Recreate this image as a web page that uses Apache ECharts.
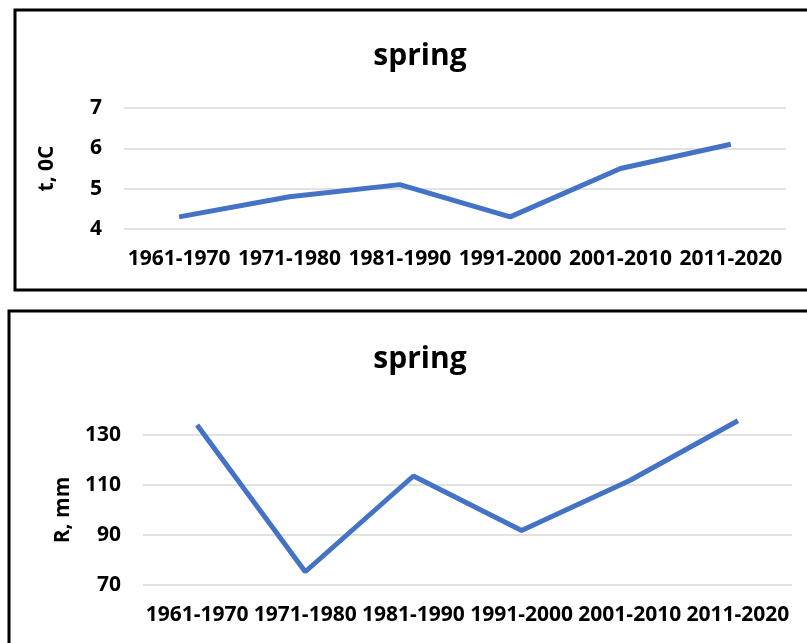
<!DOCTYPE html>
<html>
<head>
<meta charset="utf-8">
<script src="https://cdn.jsdelivr.net/npm/echarts@6/dist/echarts.min.js"></script>
<style>
  html, body { margin: 0; padding: 0; background: #fff; }
  #main { width: 807px; height: 643px; }
</style>
</head>
<body>
<div id="main"></div>
<script>
const decades = ['1961-1970', '1971-1980', '1981-1990', '1991-2000', '2001-2010', '2011-2020']
const tempValues = [4.3, 4.8, 5.1, 4.3, 5.5, 6.1]
const rainValues = [134, 75.3, 113.6, 91.8, 111.8, 135.7]
const tempTicks = [4, 7, 1]   // min, max, step
const rainTicks = [70, 130, 20]

const font = 'Open Sans'
const lineColor = '#4472C4'

const chart = echarts.init(document.getElementById('main'))

function yAxisFor(ticks, gridIndex, name, gap) {
  return {
    type: 'value',
    gridIndex: gridIndex,
    min: ticks[0],
    max: ticks[1],
    interval: ticks[2],
    name: name,
    nameLocation: 'middle',
    nameGap: gap,
    nameRotate: 90,
    nameTextStyle: { fontFamily: font, fontWeight: 'bold', fontSize: 21, color: '#000' },
    axisLine: { show: false },
    axisTick: { show: false },
    axisLabel: { fontFamily: font, fontWeight: 'bold', fontSize: 21, color: '#000', margin: 22 },
    splitLine: { lineStyle: { color: '#D9D9D9', width: 1.5 } }
  }
}

function xAxisFor(gridIndex) {
  return {
    type: 'category',
    gridIndex: gridIndex,
    data: decades,
    boundaryGap: true,
    axisLine: { show: false },
    axisTick: { show: false },
    axisLabel: { fontFamily: font, fontWeight: 'bold', fontSize: 21, color: '#000', margin: 20, interval: 0 }
  }
}

chart.setOption({
  animation: false,
  title: [
    { text: 'spring', left: 415, top: 36, textAlign: 'center',
      textStyle: { fontFamily: font, fontWeight: 'bold', fontSize: 30, color: '#000' } },
    { text: 'spring', left: 415, top: 339, textAlign: 'center',
      textStyle: { fontFamily: font, fontWeight: 'bold', fontSize: 30, color: '#000' } }
  ],
  grid: [
    { left: 124, right: 21, top: 108, height: 121 },
    { left: 143, right: 15, top: 435, height: 150 }
  ],
  xAxis: [xAxisFor(0), xAxisFor(1)],
  yAxis: [
    yAxisFor(tempTicks, 0, 't, 0C', 66),
    yAxisFor(rainTicks, 1, 'R, mm', 69)
  ],
  series: [
    { type: 'line', xAxisIndex: 0, yAxisIndex: 0, data: tempValues, symbol: 'none', clip: false,
      lineStyle: { color: lineColor, width: 5 } },
    { type: 'line', xAxisIndex: 1, yAxisIndex: 1, data: rainValues, symbol: 'none', clip: false,
      lineStyle: { color: lineColor, width: 5 } }
  ],
  graphic: [
    { type: 'rect', shape: { x: 15, y: 10, width: 820, height: 280 },
      style: { fill: 'none', stroke: '#000', lineWidth: 3 } },
    { type: 'rect', shape: { x: 9, y: 311, width: 820, height: 400 },
      style: { fill: 'none', stroke: '#000', lineWidth: 3 } }
  ]
})
</script>
</body>
</html>
